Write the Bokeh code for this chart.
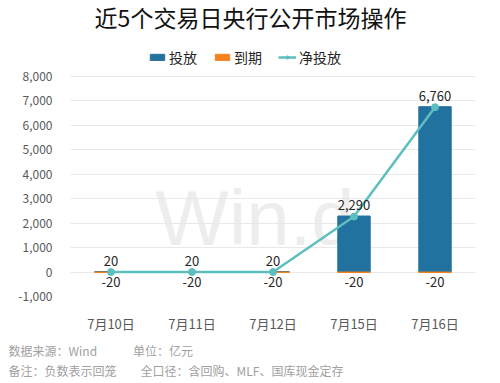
from bokeh.plotting import figure
from bokeh.models import (ColumnDataSource, FactorRange, Range1d, NumeralTickFormatter,
                          Legend, LegendItem, Title, Label)
from bokeh.core.properties import value
from bokeh.embed import file_html
from bokeh.resources import INLINE

cats = ["7月10日", "7月11日", "7月12日", "7月15日", "7月16日"]
touf = [20, 20, 20, 2290, 6760]
daoqi = [-20, -20, -20, -20, -20]
net = [0, 0, 0, 2270, 6740]
touf_lbl = ["20", "20", "20", "2,290", "6,760"]
daoqi_lbl = ["-20", "-20", "-20", "-20", "-20"]
yticks = [-1000, 0, 1000, 2000, 3000, 4000, 5000, 6000, 7000, 8000]
title_text = "近5个交易日央行公开市场操作"
note_text = ("数据来源：Wind\u3000\u3000\u3000单位：亿元\n"
             "备注：负数表示回笼\u3000\u3000全口径：含回购、MLF、国库现金定存")

FONT = "Noto Sans CJK SC"
BLUE = "#21729F"
ORANGE = "#F5821F"
TEAL = "#5DBEBE"

src = ColumnDataSource(dict(x=cats, touf=touf, daoqi=daoqi, net=net,
                            tl=touf_lbl, dl=daoqi_lbl))

p = figure(width=500, height=383, x_range=FactorRange(*cats), y_range=Range1d(-1000, 11102),
           output_backend="svg", toolbar_location=None,
           min_border_left=70, min_border_right=25, min_border_top=0, min_border_bottom=87)
p.outline_line_color = None

# title (inside the top of the frame)
p.add_layout(Label(x=180, y=280, x_units="screen", y_units="screen", text=title_text,
                   text_align="center", text_baseline="middle", text_font=FONT,
                   text_font_size="23px", text_color="#111111"))

# watermark
p.text(x=["7月12日"], y=[2190], text=["Win.d"], text_font=value("Liberation Sans"),
       text_font_size="78px", text_color="#EDEDED", x_offset=-18,
       text_align="center", text_baseline="alphabetic", level="underlay")

r_t = p.vbar(x="x", top="touf", bottom=0, width=0.4, source=src, color=BLUE)
r_d = p.vbar(x="x", top=0, bottom="daoqi", width=0.4, source=src, color=ORANGE)
r_l = p.line(x="x", y="net", source=src, line_color=TEAL, line_width=2.5)
r_c = p.scatter(x="x", y="net", source=src, size=7, color=TEAL)

p.text(x="x", y="touf", text="tl", source=src, text_font=value(FONT), text_font_size="13px",
       text_color="#262626", text_align="center", text_baseline="bottom", y_offset=-6)
p.text(x="x", y="daoqi", text="dl", source=src, text_font=value(FONT), text_font_size="13px",
       text_color="#262626", text_align="center", text_baseline="top", y_offset=4)

p.xgrid.grid_line_color = None
p.ygrid.grid_line_color = "#E8E8E8"
p.yaxis.ticker = yticks
p.yaxis.formatter = NumeralTickFormatter(format="0,0")
for ax in (p.xaxis[0], p.yaxis[0]):
    ax.axis_line_color = None
    ax.major_tick_line_color = None
    ax.minor_tick_line_color = None
    ax.major_label_text_font = FONT
    ax.major_label_text_font_size = "12px"
    ax.major_label_text_color = "#595959"
p.yaxis.major_label_standoff = 12
p.xaxis.major_label_standoff = 11
p.xaxis.major_label_text_font_size = "13px"

legend = Legend(items=[LegendItem(label="投放", renderers=[r_t]),
                       LegendItem(label="到期", renderers=[r_d]),
                       LegendItem(label="净投放", renderers=[r_l, r_c])],
                orientation="horizontal", location=(78, 229),
                label_text_font=FONT, label_text_font_size="14px", label_text_color="#262626",
                glyph_width=18, glyph_height=8, label_standoff=3, spacing=16,
                border_line_color=None, background_fill_alpha=0, padding=0, margin=0)
p.add_layout(legend)

# footer notes
p.add_layout(Title(text=note_text, align="left", offset=-62, text_font=FONT,
                   text_font_size="12px", text_font_style="normal", text_color="#A0A0A0",
                   text_line_height=1.2, standoff=9), "below")

open("out.html", "w").write(file_html(p, INLINE))
